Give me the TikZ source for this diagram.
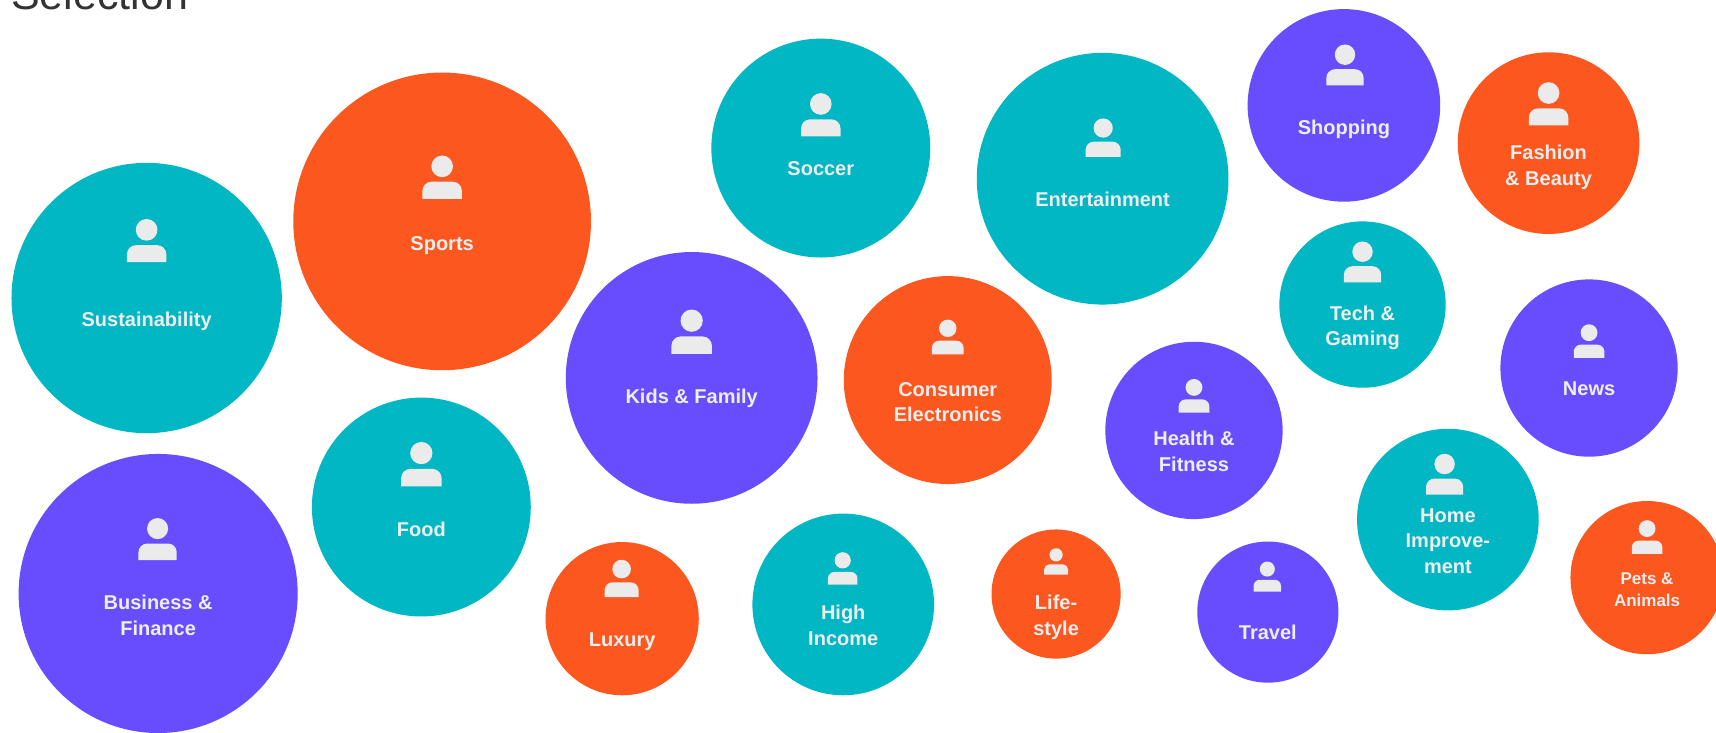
\documentclass[tikz,border=0pt]{standalone}
\usepackage{fontspec}
\setmainfont{Liberation Sans}
\definecolor{tealc}{HTML}{00B7C3}
\definecolor{orangec}{HTML}{FB571F}
\definecolor{purplec}{HTML}{684DFF}
\definecolor{iconc}{HTML}{EBEBEB}
\definecolor{labelc}{HTML}{EEEEEE}
\tikzset{
  bubble/.style={circle,inner sep=0pt,outer sep=0pt,draw=none},
  lab/.style={text=labelc,align=center,inner sep=0pt,yshift=-2.7pt,font=\bfseries\fontsize{20}{25.6}\selectfont},
  smalllab/.style={lab,font=\bfseries\fontsize{17}{22}\selectfont},
  titlelab/.style={text=black!80,inner sep=0pt,anchor=base west,font=\fontsize{43}{48}\selectfont}
}
% name, cx, cy, r, colour, headx, heady, w
\newcommand{\bub}[8]{%
  \pgfmathsetmacro{\dia}{2*#4*1.09439}%
  \node[bubble,fill=#5,minimum size=\dia pt] (#1) at (#2,#3+0.3) {};%
  \pgfmathsetmacro{\hr}{0.275*#8}%
  \pgfmathsetmacro{\hrp}{\hr*1.09439}%
  \pgfmathsetmacro{\xl}{#6-#8/2}%
  \pgfmathsetmacro{\xr}{#6+#8/2}%
  \pgfmathsetmacro{\yt}{#7+0.39*#8}%
  \pgfmathsetmacro{\yb}{\yt+0.433*#8}%
  \pgfmathsetmacro{\rc}{0.23*#8*1.09439}%
  \node[circle,inner sep=0pt,fill=iconc,minimum size=2*\hrp pt] (#1head) at (#6,#7) {};%
  \fill[iconc,rounded corners=\rc pt] (\xl,\yb) -- (\xl,\yt) -- (\xr,\yt) -- (\xr,\yb);%
}
\newcommand{\sn}{\rule[-0.27em]{0pt}{1em}}
\begin{document}
\begin{tikzpicture}[x=1.09439pt,y=-1.09439pt]
\useasboundingbox (0,0) rectangle (1568,669);
\clip (0,0) rectangle (1568,669);
\node[titlelab] (title) at (10,8.5) {Selection};
\bub{sus}{134}{272}{123.5}{tealc}{134}{210}{36}
\node[lab] (sust) at (134,292) {\sn Sustainability};
\bub{spo}{404}{202}{136}{orangec}{404}{152}{36}
\node[lab] (spot) at (404,222) {\sn Sports};
\bub{soc}{750}{135}{100}{tealc}{750}{95}{36}
\node[lab] (soct) at (750,154) {\sn Soccer};
\bub{ent}{1007.5}{163}{115}{tealc}{1008}{117}{32}
\node[lab] (entt) at (1007.5,182) {\sn Entertainment};
\bub{sho}{1228}{96}{88}{purplec}{1229}{50}{34}
\node[lab] (shot) at (1228,116) {\sn Shopping};
\bub{fas}{1415}{130.5}{83}{orangec}{1415}{85}{36}
\node[lab] (fast) at (1415,151) {\sn Fashion\\\sn \& Beauty};
\bub{tec}{1245}{278}{76}{tealc}{1245}{230}{34}
\node[lab] (tect) at (1245,297.5) {\sn Tech \&\\\sn Gaming};
\bub{new}{1452}{336}{81}{purplec}{1452}{304}{28}
\node[lab] (newt) at (1452,355) {\sn News};
\bub{kid}{632}{345}{115}{purplec}{632}{293}{37}
\node[lab] (kidt) at (632,362) {\sn Kids \& Family};
\bub{con}{866}{347}{95}{orangec}{866}{300}{29}
\node[lab] (cont) at (866,367) {\sn Consumer\\\sn Electronics};
\bub{hea}{1091}{393}{81}{purplec}{1091}{354}{28}
\node[lab] (heat) at (1091,412.5) {\sn Health \&\\\sn Fitness};
\bub{hom}{1323}{474.5}{83}{tealc}{1320}{424}{34}
\node[lab] (homt) at (1323,494) {\sn Home\\\sn Improve-\\\sn ment};
\bub{pet}{1505}{527.5}{70}{orangec}{1505}{483}{28}
\node[smalllab] (pett) at (1505,538) {\sn Pets \&\\\sn Animals};
\bub{foo}{385}{463}{100}{tealc}{385}{414}{37}
\node[lab] (foot) at (385,484) {\sn Food};
\bub{bus}{144.5}{542}{127.5}{purplec}{144}{483}{35}
\node[lab] (bust) at (144.5,562) {\sn Business \&\\\sn Finance};
\bub{lux}{568.5}{565}{70}{orangec}{568}{520}{31}
\node[lab] (luxt) at (568.5,584) {\sn Luxury};
\bub{hig}{770.5}{552}{83}{tealc}{770}{512}{27}
\node[lab] (higt) at (770.5,571.5) {\sn High\\\sn Income};
\bub{lif}{965}{542.5}{59}{orangec}{965}{507}{22}
\node[lab] (lift) at (965,562) {\sn Life-\\\sn style};
\bub{tra}{1158.5}{559}{64.5}{purplec}{1158}{520}{25}
\node[lab] (trat) at (1158.5,578) {\sn Travel};
\end{tikzpicture}
\end{document}
